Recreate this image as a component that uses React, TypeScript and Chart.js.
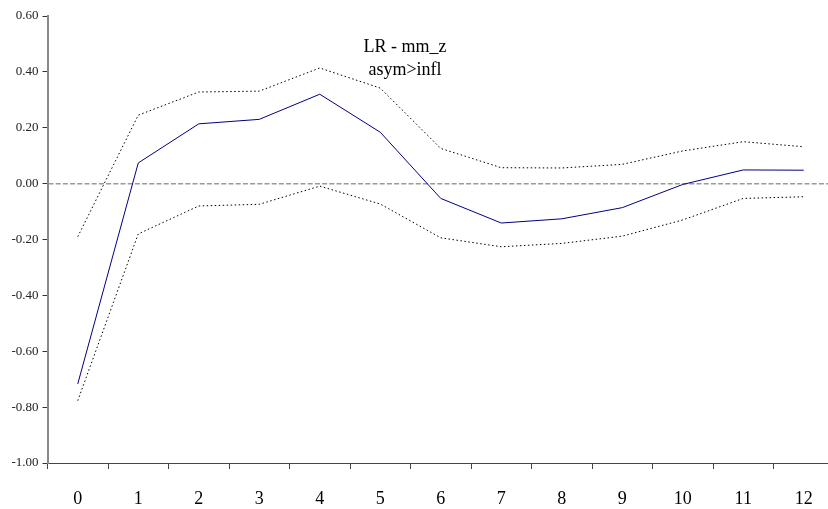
import React, { useEffect, useRef } from "react";
import { Chart, registerables } from "chart.js";

Chart.register(...registerables);

// Impulse response horizon (periods)
const periods = ["0", "1", "2", "3", "4", "5", "6", "7", "8", "9", "10", "11", "12"];

// Point estimate of the response
const response = [-0.717, 0.074, 0.214, 0.23, 0.32, 0.184, -0.053, -0.141, -0.126, -0.086, -0.003, 0.049, 0.048];

// Upper and lower confidence bands
const upperBand = [-0.19, 0.245, 0.328, 0.331, 0.414, 0.342, 0.126, 0.057, 0.056, 0.069, 0.117, 0.15, 0.132];
const lowerBand = [-0.777, -0.18, -0.08, -0.074, -0.009, -0.073, -0.194, -0.226, -0.214, -0.188, -0.13, -0.053, -0.047];

const titleLines = ["LR - mm_z", "asym>infl"];

const SERIF = "'Liberation Serif', 'Times New Roman', serif";

// Dashed reference line at zero plus the two-line caption inside the plot
const overlayPlugin = {
  id: "overlay",
  beforeDatasetsDraw(chart: any) {
    const { ctx, chartArea, scales } = chart;
    const y = scales.y.getPixelForValue(0);
    ctx.save();
    ctx.strokeStyle = "#9a9a9a";
    ctx.lineWidth = 1.5;
    ctx.setLineDash([5, 2.2]);
    ctx.beginPath();
    ctx.moveTo(chartArea.left + 1, y);
    ctx.lineTo(chartArea.right, y);
    ctx.stroke();
    ctx.restore();
  },
  afterDraw(chart: any) {
    const { ctx } = chart;
    ctx.save();
    ctx.fillStyle = "#000";
    ctx.font = `18px ${SERIF}`;
    ctx.textAlign = "center";
    ctx.textBaseline = "middle";
    ctx.fillText(titleLines[0], 405, 47);
    ctx.fillText(titleLines[1], 405, 70);
    ctx.restore();
  },
};

export default function App() {
  const canvasRef = useRef<HTMLCanvasElement | null>(null);

  useEffect(() => {
    document.body.style.margin = "0";
    const canvas = canvasRef.current;
    if (!canvas) return;

    const chart = new Chart(canvas, {
      type: "line",
      data: {
        labels: periods,
        datasets: [
          {
            data: upperBand,
            borderColor: "#000",
            borderWidth: 1,
            borderDash: [1.5, 2.5],
            pointRadius: 0,
            tension: 0,
          },
          {
            data: response,
            borderColor: "#000080",
            borderWidth: 1,
            pointRadius: 0,
            tension: 0,
          },
          {
            data: lowerBand,
            borderColor: "#000",
            borderWidth: 1,
            borderDash: [1.5, 2.5],
            pointRadius: 0,
            tension: 0,
          },
        ],
      },
      options: {
        responsive: false,
        animation: false,
        layout: { padding: { top: 16, right: 0, left: 0, bottom: 0 } },
        plugins: {
          legend: { display: false },
          tooltip: { enabled: false },
          title: { display: false },
        },
        scales: {
          x: {
            type: "category",
            offset: true,
            grid: {
              offset: true,
              drawOnChartArea: false,
              drawTicks: true,
              tickLength: 6,
              color: "#444",
              lineWidth: 1,
            },
            border: { display: true, color: "#444", width: 1 },
            ticks: {
              color: "#000",
              font: { family: SERIF, size: 18 },
              padding: 19,
              maxRotation: 0,
              autoSkip: false,
            },
            afterFit(scale: any) {
              scale.height = 46;
            },
          },
          y: {
            min: -1,
            max: 0.6,
            grid: {
              drawOnChartArea: false,
              drawTicks: true,
              tickLength: 5,
              color: "#333",
              lineWidth: 1,
            },
            border: { display: true, color: "#8a8a8a", width: 2 },
            ticks: {
              stepSize: 0.2,
              color: "#222",
              font: { family: SERIF, size: 13 },
              padding: 4,
              callback: (v: any) => Number(v).toFixed(2),
            },
            afterFit(scale: any) {
              scale.width = 47.5;
            },
          },
        },
      },
      plugins: [overlayPlugin],
    });

    return () => chart.destroy();
  }, []);

  return (
    <div style={{ width: 828, height: 509, overflow: "hidden", position: "relative", background: "#fff" }}>
      <canvas ref={canvasRef} width={834} height={509} style={{ display: "block" }} />
    </div>
  );
}
